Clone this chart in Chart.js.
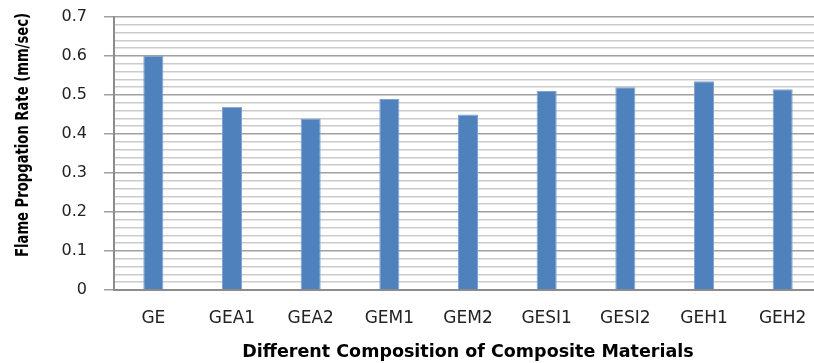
<!DOCTYPE html>
<html>
<head>
<meta charset="utf-8">
<script src="https://cdn.jsdelivr.net/npm/chart.js@4/dist/chart.umd.min.js"></script>
<style>
  html, body { margin: 0; padding: 0; background: #ffffff; overflow: hidden; }
  #wrap { position: relative; width: 830px; height: 363px; }
</style>
</head>
<body>
<div id="wrap"><canvas id="chart"></canvas></div>
<script>
// Composite materials and their measured flame propagation rates (mm/sec)
const categories = ['GE', 'GEA1', 'GEA2', 'GEM1', 'GEM2', 'GESI1', 'GESI2', 'GEH1', 'GEH2'];
const rates = [0.6, 0.47, 0.44, 0.49, 0.45, 0.51, 0.52, 0.535, 0.515];
const yTickLabels = ['0', '0.1', '0.2', '0.3', '0.4', '0.5', '0.6', '0.7'];
const yTitle = 'Flame Propgation Rate (mm/sec)';
const xTitle = 'Different Composition of Composite Materials';

const isMajor = v => Math.round(v * 100) % 10 === 0;

// Vertical axis caption, drawn in a condensed bold face
const yTitlePlugin = {
  id: 'yTitle',
  afterDraw(chart) {
    const ctx = chart.ctx;
    ctx.save();
    ctx.font = 'bold 16px "DejaVu Sans"';
    ctx.fillStyle = '#000000';
    ctx.textAlign = 'center';
    ctx.textBaseline = 'middle';
    const w = ctx.measureText(yTitle).width;
    ctx.translate(23, 135);
    ctx.rotate(-Math.PI / 2);
    ctx.scale(244 / w, 1.1);
    ctx.fillText(yTitle, 0, 0);
    ctx.restore();
  }
};

new Chart(document.getElementById('chart'), {
  type: 'bar',
  data: {
    labels: categories,
    datasets: [{
      data: rates,
      backgroundColor: '#4f81bd',
      borderColor: '#7fa3d0',
      borderWidth: 1,
      borderSkipped: 'bottom',
      categoryPercentage: 1,
      barPercentage: 0.255
    }]
  },
  options: {
    responsive: true,
    maintainAspectRatio: false,
    animation: false,
    layout: { padding: { top: 17, right: 8, left: 0, bottom: 0 } },
    plugins: {
      legend: { display: false },
      tooltip: { enabled: false }
    },
    scales: {
      x: {
        grid: { display: false, drawTicks: false },
        border: { display: true, color: '#8c8c8c', width: 2 },
        ticks: {
          color: '#222222',
          font: { family: '"DejaVu Sans"', size: 17 },
          padding: 18,
          maxRotation: 0,
          autoSkip: false
        },
        title: {
          display: true,
          text: xTitle,
          color: '#000000',
          font: { family: '"DejaVu Sans"', size: 17.5, weight: 'bold' },
          padding: { top: 0, bottom: 0 }
        },
        afterFit(s) { s.height = 73; s.paddingLeft = 0; s.paddingRight = 0; }
      },
      y: {
        min: 0,
        max: 0.7,
        grid: {
          color: c => isMajor(c.tick.value) ? '#a0a0a0' : '#cbcbcb',
          lineWidth: 1.5,
          tickLength: 10,
          tickColor: c => isMajor(c.tick.value) ? '#a0a0a0' : 'rgba(0,0,0,0)',
          tickWidth: 1.5
        },
        border: { display: true, color: '#8c8c8c', width: 2 },
        ticks: {
          stepSize: 0.02,
          color: '#222222',
          font: { family: '"DejaVu Sans"', size: 16 },
          padding: 17,
          autoSkip: false,
          callback: v => isMajor(v) ? yTickLabels[Math.round(v * 10)] : ''
        },
        afterFit(s) { s.width = 114; s.paddingTop = 0; s.paddingBottom = 0; }
      }
    }
  },
  plugins: [yTitlePlugin]
});
</script>
</body>
</html>
